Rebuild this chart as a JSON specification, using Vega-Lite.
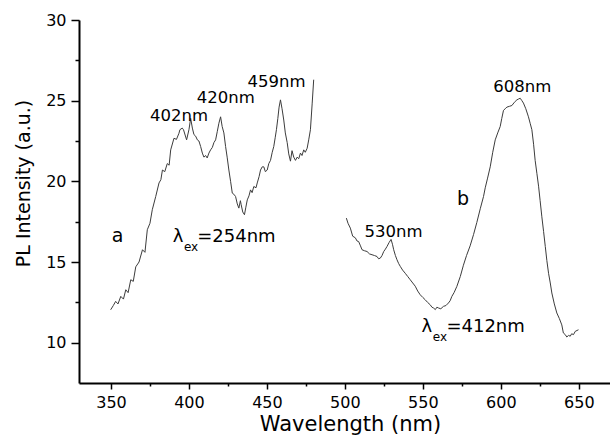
{
  "$schema": "https://vega.github.io/schema/vega-lite/v6.json",
  "width": 531,
  "height": 363,
  "autosize": {"type": "none"},
  "padding": {"left": 79, "top": 20, "right": 0, "bottom": 60},
  "background": "white",
  "config": {
    "view": {"stroke": null},
    "font": "DejaVu Sans",
    "axis": {
      "labelFont": "DejaVu Sans",
      "titleFont": "DejaVu Sans",
      "labelColor": "black",
      "titleColor": "black",
      "domainColor": "black",
      "tickColor": "black",
      "titleFontWeight": "normal",
      "grid": false
    }
  },
  "datasets": {
    "curves": [
      {"s":"a","x":349.8,"y":12.04},{"s":"a","x":351.5,"y":12.3},{"s":"a","x":353,"y":12.56},{"s":"a","x":354.5,"y":12.4},
      {"s":"a","x":356.3,"y":12.87},{"s":"a","x":358,"y":12.7},{"s":"a","x":359.5,"y":13.28},{"s":"a","x":361,"y":13.1},
      {"s":"a","x":362.7,"y":13.9},{"s":"a","x":364.3,"y":13.8},{"s":"a","x":365.9,"y":14.7},{"s":"a","x":368,"y":15.0},
      {"s":"a","x":370.2,"y":15.76},{"s":"a","x":371.8,"y":15.6},{"s":"a","x":373.3,"y":17.0},{"s":"a","x":375,"y":17.4},
      {"s":"a","x":376.5,"y":18.24},{"s":"a","x":378.7,"y":19.06},{"s":"a","x":380.8,"y":19.9},{"s":"a","x":382,"y":20.1},
      {"s":"a","x":383,"y":20.7},{"s":"a","x":384.5,"y":20.6},{"s":"a","x":386.1,"y":21.1},{"s":"a","x":387.3,"y":21.0},
      {"s":"a","x":388.3,"y":21.95},{"s":"a","x":390.4,"y":22.67},{"s":"a","x":392,"y":22.6},{"s":"a","x":393.6,"y":22.98},
      {"s":"a","x":394.2,"y":23.2},{"s":"a","x":395.7,"y":23.3},{"s":"a","x":396.5,"y":23.2},{"s":"a","x":398.5,"y":22.57},
      {"s":"a","x":400,"y":23.2},{"s":"a","x":401.1,"y":23.9},{"s":"a","x":402.2,"y":23.3},{"s":"a","x":403.2,"y":22.9},
      {"s":"a","x":404.3,"y":22.8},{"s":"a","x":405.4,"y":22.57},{"s":"a","x":406.4,"y":22.5},{"s":"a","x":407.5,"y":22.16},
      {"s":"a","x":408.6,"y":21.75},{"s":"a","x":409.6,"y":21.5},{"s":"a","x":410.7,"y":21.6},{"s":"a","x":411.7,"y":21.45},
      {"s":"a","x":412.8,"y":21.75},{"s":"a","x":413.9,"y":21.95},{"s":"a","x":415,"y":22.1},{"s":"a","x":416,"y":22.4},
      {"s":"a","x":417.1,"y":22.57},{"s":"a","x":418.2,"y":23.1},{"s":"a","x":419.2,"y":23.6},{"s":"a","x":420.3,"y":24.0},
      {"s":"a","x":421.3,"y":23.4},{"s":"a","x":422.4,"y":23.0},{"s":"a","x":423.5,"y":22.16},{"s":"a","x":424.5,"y":21.5},
      {"s":"a","x":425.6,"y":20.7},{"s":"a","x":426.7,"y":20.0},{"s":"a","x":427.8,"y":19.27},{"s":"a","x":428.8,"y":19.2},
      {"s":"a","x":429.9,"y":19.06},{"s":"a","x":431,"y":18.6},{"s":"a","x":432,"y":18.34},{"s":"a","x":433,"y":18.8},
      {"s":"a","x":433.5,"y":18.55},{"s":"a","x":434.5,"y":18.1},{"s":"a","x":435.6,"y":17.93},{"s":"a","x":436.5,"y":18.4},
      {"s":"a","x":437.4,"y":18.85},{"s":"a","x":438.5,"y":19.1},{"s":"a","x":439.5,"y":19.47},{"s":"a","x":440.5,"y":19.3},
      {"s":"a","x":441.6,"y":19.68},{"s":"a","x":443,"y":19.6},{"s":"a","x":443.8,"y":19.9},{"s":"a","x":445,"y":20.3},
      {"s":"a","x":445.9,"y":20.7},{"s":"a","x":447,"y":20.9},{"s":"a","x":448,"y":20.9},{"s":"a","x":449,"y":20.6},
      {"s":"a","x":450.2,"y":20.7},{"s":"a","x":451.2,"y":21.1},{"s":"a","x":452.3,"y":21.3},{"s":"a","x":453.4,"y":21.8},
      {"s":"a","x":454.4,"y":22.16},{"s":"a","x":455.3,"y":22.7},{"s":"a","x":456.1,"y":23.2},{"s":"a","x":457,"y":23.9},
      {"s":"a","x":457.8,"y":24.6},{"s":"a","x":458.7,"y":25.05},{"s":"a","x":459.7,"y":24.5},{"s":"a","x":460.8,"y":23.8},
      {"s":"a","x":461.8,"y":23.0},{"s":"a","x":463,"y":22.4},{"s":"a","x":464,"y":21.7},{"s":"a","x":465.1,"y":21.25},
      {"s":"a","x":466.1,"y":21.9},{"s":"a","x":467.2,"y":21.5},{"s":"a","x":468.3,"y":21.3},{"s":"a","x":469.4,"y":21.5},
      {"s":"a","x":470.4,"y":21.4},{"s":"a","x":471.5,"y":21.75},{"s":"a","x":472.5,"y":21.6},{"s":"a","x":473.6,"y":21.95},
      {"s":"a","x":474.6,"y":21.8},{"s":"a","x":475.8,"y":22.05},{"s":"a","x":476.8,"y":22.57},{"s":"a","x":477.9,"y":23.2},
      {"s":"a","x":479,"y":24.8},{"s":"a","x":480,"y":26.3},
      {"s":"b","x":500.95,"y":17.72},{"s":"b","x":502,"y":17.4},{"s":"b","x":503.5,"y":17.1},{"s":"b","x":505,"y":16.6},
      {"s":"b","x":506.7,"y":16.5},{"s":"b","x":507.8,"y":16.3},{"s":"b","x":508.8,"y":16.27},{"s":"b","x":510,"y":16.0},
      {"s":"b","x":511,"y":15.76},{"s":"b","x":512.5,"y":15.7},{"s":"b","x":514.2,"y":15.65},{"s":"b","x":515.8,"y":15.5},
      {"s":"b","x":517.4,"y":15.45},{"s":"b","x":519,"y":15.4},{"s":"b","x":520.6,"y":15.34},{"s":"b","x":521.6,"y":15.2},
      {"s":"b","x":522.7,"y":15.24},{"s":"b","x":523.8,"y":15.4},{"s":"b","x":524.9,"y":15.65},{"s":"b","x":526,"y":15.8},
      {"s":"b","x":527,"y":15.96},{"s":"b","x":528.3,"y":16.2},{"s":"b","x":529.6,"y":16.4},{"s":"b","x":530.5,"y":16.1},
      {"s":"b","x":531.3,"y":15.76},{"s":"b","x":532.4,"y":15.4},{"s":"b","x":533.4,"y":15.14},{"s":"b","x":534.5,"y":14.9},
      {"s":"b","x":535.5,"y":14.73},{"s":"b","x":537,"y":14.5},{"s":"b","x":538.7,"y":14.3},{"s":"b","x":540.3,"y":14.1},
      {"s":"b","x":541.9,"y":13.9},{"s":"b","x":543.5,"y":13.7},{"s":"b","x":545.1,"y":13.5},{"s":"b","x":546.7,"y":13.2},
      {"s":"b","x":548.3,"y":12.97},{"s":"b","x":550,"y":12.8},{"s":"b","x":551.5,"y":12.66},{"s":"b","x":553,"y":12.5},
      {"s":"b","x":554.7,"y":12.35},{"s":"b","x":555.8,"y":12.2},{"s":"b","x":556.8,"y":12.15},{"s":"b","x":558,"y":12.05},
      {"s":"b","x":559,"y":12.2},{"s":"b","x":560,"y":12.15},{"s":"b","x":561.5,"y":12.1},{"s":"b","x":563.2,"y":12.25},
      {"s":"b","x":564.8,"y":12.3},{"s":"b","x":566.4,"y":12.46},{"s":"b","x":567.5,"y":12.6},{"s":"b","x":568.6,"y":12.87},
      {"s":"b","x":570,"y":13.1},{"s":"b","x":571.8,"y":13.49},{"s":"b","x":574,"y":14.1},{"s":"b","x":576,"y":14.8},
      {"s":"b","x":578,"y":15.4},{"s":"b","x":580.3,"y":16.0},{"s":"b","x":582.5,"y":16.7},{"s":"b","x":584.6,"y":17.45},
      {"s":"b","x":586.8,"y":18.3},{"s":"b","x":588.9,"y":19.06},{"s":"b","x":590,"y":19.6},{"s":"b","x":591.5,"y":20.2},
      {"s":"b","x":593.2,"y":20.9},{"s":"b","x":594.8,"y":21.8},{"s":"b","x":596.4,"y":22.57},{"s":"b","x":598,"y":23.0},
      {"s":"b","x":599.6,"y":23.4},{"s":"b","x":600.6,"y":23.9},{"s":"b","x":601.7,"y":24.4},{"s":"b","x":602.8,"y":24.5},
      {"s":"b","x":603.9,"y":24.6},{"s":"b","x":605.5,"y":24.65},{"s":"b","x":607.1,"y":24.7},{"s":"b","x":608.7,"y":24.9},
      {"s":"b","x":610.3,"y":25.05},{"s":"b","x":611.3,"y":25.1},{"s":"b","x":612.4,"y":25.15},{"s":"b","x":613.5,"y":25.0},
      {"s":"b","x":614.5,"y":24.85},{"s":"b","x":616,"y":24.5},{"s":"b","x":617.7,"y":24.0},{"s":"b","x":618.8,"y":23.6},
      {"s":"b","x":619.9,"y":23.2},{"s":"b","x":621,"y":22.3},{"s":"b","x":622,"y":21.3},{"s":"b","x":623.1,"y":20.5},
      {"s":"b","x":624.2,"y":19.7},{"s":"b","x":625.2,"y":18.8},{"s":"b","x":626.3,"y":17.8},{"s":"b","x":627.4,"y":16.9},
      {"s":"b","x":628.5,"y":15.96},{"s":"b","x":629.5,"y":15.1},{"s":"b","x":630.6,"y":14.3},{"s":"b","x":631.7,"y":13.7},
      {"s":"b","x":632.7,"y":13.08},{"s":"b","x":634.3,"y":12.4},{"s":"b","x":635.9,"y":11.84},{"s":"b","x":637.5,"y":11.5},
      {"s":"b","x":639.1,"y":11.1},{"s":"b","x":640.1,"y":10.6},{"s":"b","x":641.3,"y":10.5},{"s":"b","x":642.3,"y":10.35},
      {"s":"b","x":643.4,"y":10.45},{"s":"b","x":644.5,"y":10.4},{"s":"b","x":645.4,"y":10.55},{"s":"b","x":646.6,"y":10.5},
      {"s":"b","x":647.7,"y":10.7},{"s":"b","x":649.8,"y":10.8}
    ],
    "peaks": [
      {"x":393.7,"y":23.76,"t":"402nm"},
      {"x":423.6,"y":24.84,"t":"420nm"},
      {"x":456.2,"y":25.83,"t":"459nm"},
      {"x":613.7,"y":25.56,"t":"608nm"},
      {"x":531.2,"y":16.57,"t":"530nm"}
    ],
    "letters": [
      {"x":354.2,"y":16.26,"t":"a"},
      {"x":575.8,"y":18.53,"t":"b"}
    ],
    "lambda": [
      {"x":389.55,"y":16.27,"t":"λ"},
      {"x":405.3,"y":16.27,"t":"=254nm"},
      {"x":549.1,"y":10.68,"t":"λ"},
      {"x":565.1,"y":10.68,"t":"=412nm"}
    ],
    "sub": [
      {"x":396.8,"y":15.68,"t":"ex"},
      {"x":556.4,"y":10.12,"t":"ex"}
    ]
  },
  "resolve": {"axis": {"x": "independent", "y": "independent"}},
  "layer": [
    {
      "data": {"name": "curves"},
      "mark": {"type": "line", "color": "#3c3c3c", "strokeWidth": 1},
      "encoding": {
        "x": {"field": "x", "type": "quantitative",
          "scale": {"domain": [329.5, 670], "nice": false, "zero": false},
          "axis": {"orient": "bottom", "values": [350,400,450,500,550,600,650], "tickSize": 6, "tickWidth": 1.5, "domainWidth": 2,
            "labelFontSize": 16, "labelPadding": 5, "title": "Wavelength (nm)", "titleFontSize": 21,
            "titleX": 271, "titleY": 30, "titleAlign": "center", "titleBaseline": "top"}},
        "y": {"field": "y", "type": "quantitative",
          "scale": {"domain": [7.5, 30], "nice": false, "zero": false},
          "axis": {"orient": "left", "values": [10,15,20,25,30], "tickSize": 8, "tickWidth": 1.5, "domainWidth": 2,
            "labelFontSize": 16, "labelPadding": 5, "title": "PL Intensity (a.u.)", "titleFontSize": 19,
            "titleX": -56, "titleY": 163, "titleAlign": "center", "titleBaseline": "middle", "titleAngle": -90}},
        "detail": {"field": "s", "type": "nominal"}
      }
    },
    {
      "data": {"name": "curves"},
      "mark": {"type": "line", "strokeOpacity": 0},
      "encoding": {
        "x": {"field": "x", "type": "quantitative",
          "axis": {"orient": "bottom", "values": [375,425,475,525,575,625], "tickSize": 3, "tickWidth": 1.5, "domain": false, "labels": false, "title": null}},
        "y": {"field": "y", "type": "quantitative",
          "axis": {"orient": "left", "values": [12.5,17.5,22.5,27.5], "tickSize": 4, "tickWidth": 1.5, "domain": false, "labels": false, "title": null}},
        "detail": {"field": "s", "type": "nominal"}
      }
    },
    {
      "data": {"name": "peaks"},
      "mark": {"type": "text", "fontSize": 16.5, "align": "center", "baseline": "alphabetic", "color": "black"},
      "encoding": {
        "x": {"field": "x", "type": "quantitative", "axis": null},
        "y": {"field": "y", "type": "quantitative", "axis": null},
        "text": {"field": "t"}
      }
    },
    {
      "data": {"name": "letters"},
      "mark": {"type": "text", "fontSize": 19, "align": "center", "baseline": "alphabetic", "color": "black"},
      "encoding": {
        "x": {"field": "x", "type": "quantitative", "axis": null},
        "y": {"field": "y", "type": "quantitative", "axis": null},
        "text": {"field": "t"}
      }
    },
    {
      "data": {"name": "lambda"},
      "mark": {"type": "text", "fontSize": 18, "align": "left", "baseline": "alphabetic", "color": "black"},
      "encoding": {
        "x": {"field": "x", "type": "quantitative", "axis": null},
        "y": {"field": "y", "type": "quantitative", "axis": null},
        "text": {"field": "t"}
      }
    },
    {
      "data": {"name": "sub"},
      "mark": {"type": "text", "fontSize": 12, "align": "left", "baseline": "alphabetic", "color": "black"},
      "encoding": {
        "x": {"field": "x", "type": "quantitative", "axis": null},
        "y": {"field": "y", "type": "quantitative", "axis": null},
        "text": {"field": "t"}
      }
    }
  ]
}
